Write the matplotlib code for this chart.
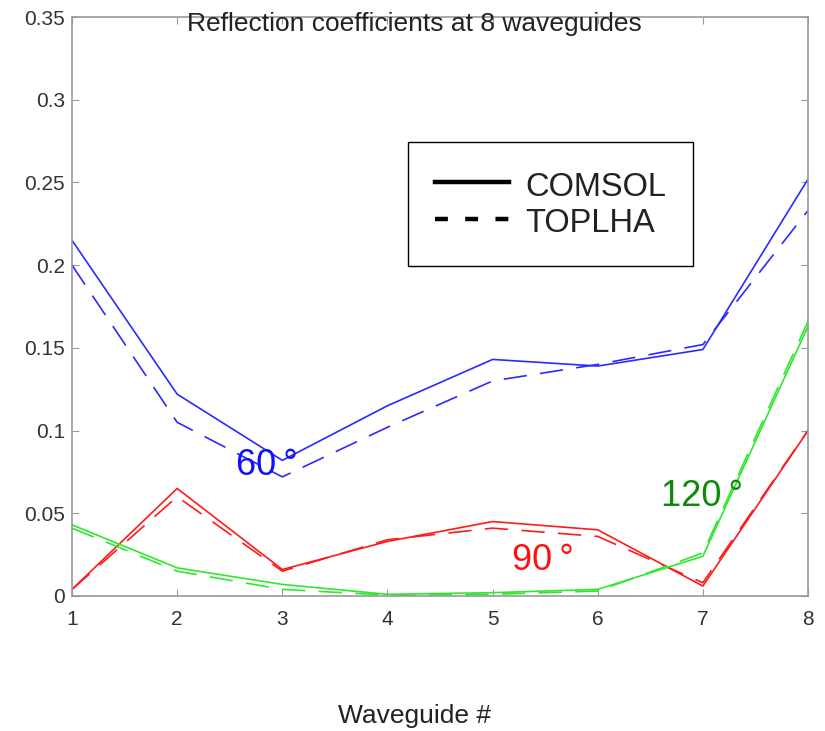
import numpy as np
import matplotlib.pyplot as plt
from matplotlib.lines import Line2D

plt.rcParams['font.family'] = ['Liberation Sans', 'DejaVu Sans']

waveguide = [1, 2, 3, 4, 5, 6, 7, 8]

# reflection coefficients, COMSOL (solid) vs TOPLHA (dashed)
comsol_60 = [0.215, 0.122, 0.082, 0.115, 0.143, 0.139, 0.149, 0.252]
toplha_60 = [0.200, 0.105, 0.072, 0.102, 0.130, 0.140, 0.152, 0.233]
comsol_90 = [0.004, 0.065, 0.016, 0.033, 0.045, 0.040, 0.006, 0.100]
toplha_90 = [0.004, 0.060, 0.015, 0.034, 0.041, 0.036, 0.008, 0.100]
comsol_120 = [0.043, 0.017, 0.007, 0.001, 0.002, 0.004, 0.024, 0.163]
toplha_120 = [0.041, 0.015, 0.004, 0.0005, 0.001, 0.003, 0.026, 0.166]

ytick_vals = [0, 0.05, 0.1, 0.15, 0.2, 0.25, 0.3, 0.35]
ytick_labels = ['0', '0.05', '0.1', '0.15', '0.2', '0.25', '0.3', '0.35']

fig = plt.figure(figsize=(8.25, 7.31), dpi=100)
ax = fig.add_axes([0.0873, 0.1847, 0.8921, 0.792])

dash = (14, 8)
lw = 1.2
for sol, dsh, col in [(comsol_60, toplha_60, '#2a2aff'),
                      (comsol_90, toplha_90, '#ff1a1a'),
                      (comsol_120, toplha_120, '#2ee82e')]:
    ax.plot(waveguide, sol, color=col, lw=lw)
    ax.plot(waveguide, dsh, color=col, lw=lw, dashes=dash)

# angle labels next to each group of curves
ax.text(2.555, 0.0732, '60\u2009°', color='#1010ff', fontsize=26, ha='left', va='baseline')
ax.text(5.18, 0.0157, '90\u2009°', color='#ff1010', fontsize=26, ha='left', va='baseline')
ax.text(6.60, 0.0544, '120\u2009°', color='#0b8a0b', fontsize=26, ha='left', va='baseline')

ax.set_xlim(1, 8)
ax.set_ylim(0, 0.35)
ax.set_xticks(waveguide)
ax.set_yticks(ytick_vals)
ax.set_yticklabels(ytick_labels)
ax.tick_params(direction='in', length=5, color='#999999', labelcolor='#333333',
               labelsize=15, top=True, right=True)
ax.tick_params(axis='x', pad=10)
ax.tick_params(axis='y', pad=5)
for s in ax.spines.values():
    s.set_color('#999999')
    s.set_linewidth(1.2)

ax.text(0.4654, 0.988, 'Reflection coefficients at 8 waveguides', transform=ax.transAxes,
        ha='center', va='center', fontsize=19, color='#222222')

handles = [Line2D([], [], color='black', lw=3.2),
           Line2D([], [], color='black', lw=3.2, dashes=(2.9, 3.9))]
leg = ax.legend(handles, ['COMSOL', 'TOPLHA'], loc='upper left',
                bbox_to_anchor=(0.4565, 0.784), borderaxespad=0, fontsize=23.5,
                handlelength=2.27, handletextpad=0.5, labelspacing=0.08,
                handleheight=1.12, borderpad=0.82, fancybox=False, framealpha=1)
leg.get_frame().set_edgecolor('black')
leg.get_frame().set_linewidth(1.0)
for t in leg.get_texts():
    t.set_color('#222222')

fig.text(0.502, 0.0205, 'Waveguide #', ha='center', va='center', fontsize=19, color='#222222')

fig.savefig('out.png', dpi=100)
